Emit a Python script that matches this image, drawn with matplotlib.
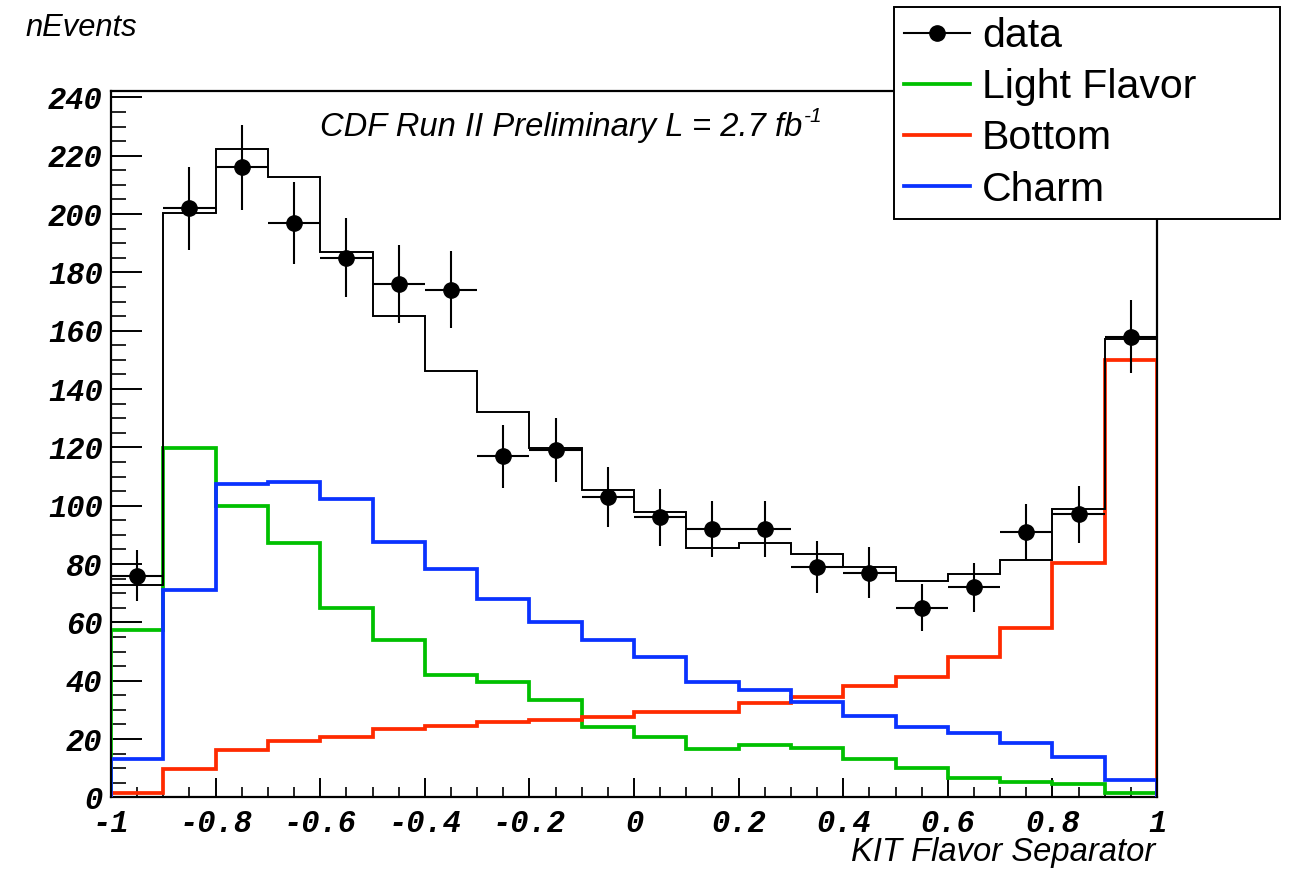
import numpy as np
import matplotlib
matplotlib.use("Agg")
import matplotlib.pyplot as plt
from matplotlib.ticker import MultipleLocator, FuncFormatter
from matplotlib.lines import Line2D

# ---------------- data ----------------
bin_edges = [-1.0, -0.9, -0.8, -0.7, -0.6, -0.5, -0.4, -0.3, -0.2, -0.1, 0.0,
             0.1, 0.2, 0.3, 0.4, 0.5, 0.6, 0.7, 0.8, 0.9, 1.0]
data_counts = [76, 202, 216, 197, 185, 176, 174, 117, 119, 103,
               96, 92, 92, 79, 77, 65, 72, 91, 97, 158]
mc_total = [72.8, 200.4, 222.3, 212.8, 187.1, 165.0, 146.2, 132.3, 119.7, 105.4,
            97.7, 85.6, 87.1, 83.4, 79.1, 74.3, 76.5, 81.4, 98.8, 157.2]
light_flavor = [57.3, 119.7, 99.9, 87.3, 64.8, 53.9, 41.9, 39.7, 33.5, 24.1,
                20.7, 16.7, 17.9, 17.1, 13.2, 10.0, 6.5, 5.2, 4.6, 1.6]
bottom = [1.6, 9.8, 16.1, 19.2, 20.7, 23.6, 24.4, 25.9, 26.4, 27.6,
          29.3, 29.3, 32.4, 34.4, 38.3, 41.2, 48.2, 58.0, 80.5, 150.0]
charm = [13.0, 71.1, 107.4, 108.3, 102.3, 87.4, 78.3, 67.9, 60.2, 53.9,
         48.0, 39.6, 36.7, 32.7, 28.0, 24.0, 22.0, 18.5, 14.0, 6.0]
legend_labels = ["data", "Light Flavor", "Bottom", "Charm"]

# ---------------- style ----------------
C_GREEN = "#00c000"
C_RED = "#ff2a00"
C_BLUE = "#0a32ff"
plt.rcParams["axes.unicode_minus"] = False

W, H = 1291, 869
fig = plt.figure(figsize=(W / 100, H / 100), dpi=100)
fig.patch.set_facecolor("white")
ax = fig.add_axes([111 / W, 1 - 797.4 / H, (1157 - 111) / W, (797.4 - 90.5) / H])

edges = np.array(bin_edges)
centers = 0.5 * (edges[:-1] + edges[1:])
halfw = 0.5 * np.diff(edges)
dc = np.array(data_counts, dtype=float)

ax.stairs(light_flavor, edges, color=C_GREEN, lw=2.7, zorder=3)
ax.stairs(bottom, edges, color=C_RED, lw=2.7, zorder=3)
ax.stairs(charm, edges, color=C_BLUE, lw=2.7, zorder=3)
ax.stairs(mc_total, edges, color="black", lw=1.4, zorder=4)
ax.errorbar(centers, dc, xerr=halfw, yerr=np.sqrt(dc), fmt="o", color="black",
            ms=11, elinewidth=1.5, capsize=0, zorder=5)

ax.set_xlim(-1, 1)
ax.set_ylim(0, (797.4 - 90.5) / 2.9167)

for s in ax.spines.values():
    s.set_linewidth(1.6)

ax.xaxis.set_major_locator(MultipleLocator(0.2))
ax.xaxis.set_minor_locator(MultipleLocator(0.05))
ax.yaxis.set_major_locator(MultipleLocator(20))
ax.yaxis.set_minor_locator(MultipleLocator(5))
ax.tick_params(axis="x", which="major", direction="in", length=14, width=1.4, pad=8,
               top=False)
ax.tick_params(axis="x", which="minor", direction="in", length=7, width=1.2, top=False)
ax.tick_params(axis="y", which="major", direction="in", length=22, width=1.4, pad=6,
               right=False)
ax.tick_params(axis="y", which="minor", direction="in", length=11, width=1.2, right=False)

def fmt(v, pos):
    s = "%g" % round(v, 3)
    return "0" if s in ("-0", "0") else s

ax.xaxis.set_major_formatter(FuncFormatter(fmt))
ax.yaxis.set_major_formatter(FuncFormatter(fmt))
tick_font = dict(family="Liberation Mono", weight="bold", style="italic", size=22)
for lab in ax.get_xticklabels() + ax.get_yticklabels():
    lab.set_fontproperties(matplotlib.font_manager.FontProperties(**tick_font))

# texts
fig.text(25 / W, 1 - 36 / H, "nEvents", family="Liberation Sans", style="italic",
         size=22.2, ha="left", va="baseline")
fig.text(1155 / W, 1 - 861 / H, "KIT Flavor Separator", family="Liberation Sans",
         style="italic", size=23.6, ha="right", va="baseline")
t_cdf = fig.text(320 / W, 1 - 136 / H, "CDF Run II Preliminary L = 2.7 fb",
                 family="Liberation Sans", style="italic", size=23.6,
                 ha="left", va="baseline")
renderer = fig.canvas.get_renderer()
bb = t_cdf.get_window_extent(renderer)
fig.text(bb.x1 / W + 1.5 / W, 1 - 136 / H + 14 / H, "-1", family="Liberation Sans",
         style="italic", size=15, ha="left", va="baseline")

# legend
handles = [
    Line2D([], [], color="black", marker="o", ms=11, lw=1.5),
    Line2D([], [], color=C_GREEN, lw=2.7),
    Line2D([], [], color=C_RED, lw=2.7),
    Line2D([], [], color=C_BLUE, lw=2.7),
]
leg = fig.legend(handles, legend_labels, loc="upper left",
                 bbox_to_anchor=(894 / W, 1 - 7 / H, (1280 - 894) / W, 0),
                 mode="expand", prop=dict(family="Liberation Sans", size=29.5),
                 frameon=True, fancybox=False, framealpha=1, edgecolor="black",
                 handlelength=1.6, handletextpad=0.3, borderpad=0.25,
                 labelspacing=0.32, borderaxespad=0)
leg.get_frame().set_linewidth(1.4)

fig.savefig("out.png", dpi=100, facecolor="white")
